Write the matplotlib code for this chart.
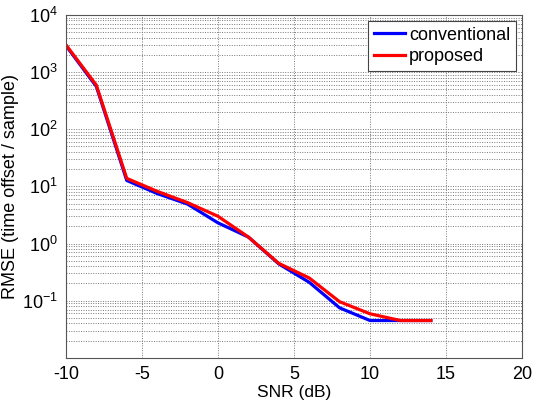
import matplotlib
matplotlib.use("Agg")
import matplotlib.pyplot as plt
import numpy as np

plt.rcParams['font.family'] = ['Liberation Sans', 'DejaVu Sans']
plt.rcParams['mathtext.default'] = 'regular'
plt.rcParams['axes.unicode_minus'] = False

# data
snr = [-10, -8, -6, -4, -2, 0, 2, 4, 6, 8, 10, 12, 14]
conventional = [2900, 560, 12.7, 7.5, 4.9, 2.3, 1.3, 0.44, 0.21, 0.075, 0.045, 0.045, 0.045]
proposed = [3000, 590, 13.8, 8.2, 5.2, 3.0, 1.3, 0.45, 0.25, 0.096, 0.059, 0.045, 0.045]

fig = plt.figure(figsize=(5.36, 4.03), dpi=100)
ax = fig.add_axes([0.123, 0.112, 0.851, 0.851])

ax.semilogy(snr, conventional, color='#0000ff', lw=2.3, label='conventional')
ax.semilogy(snr, proposed, color='#ff0000', lw=2.3, label='proposed')

ax.set_xlim(-10, 20)
ax.set_ylim(1e-2, 1e4)
ax.set_xticks([-10, -5, 0, 5, 10, 15, 20])
ax.set_yticks([1e-1, 1e0, 1e1, 1e2, 1e3, 1e4])

ax.grid(True, which='major', axis='both', linestyle=(0, (1, 1.5)), color='#777777', lw=0.7)
ax.grid(True, which='minor', axis='y', linestyle=(0, (1, 1.5)), color='#777777', lw=0.7)
ax.tick_params(which='both', direction='in', labelsize=13, top=False, right=False)
ax.tick_params(which='minor', length=0)
ax.tick_params(which='major', length=0, pad=6)
for s in ax.spines.values():
    s.set_color('#555555')

ax.set_xlabel('SNR (dB)', fontsize=12.5, labelpad=1)
ax.set_ylabel('RMSE (time offset / sample)', fontsize=13, labelpad=2)

leg = ax.legend(loc='upper right', fontsize=13, fancybox=False, framealpha=1,
                edgecolor='#444444', handlelength=1.75, handletextpad=0.2,
                borderpad=0.3, labelspacing=0.25, borderaxespad=0.35)
leg.get_frame().set_linewidth(0.8)

fig.savefig('out.png', dpi=100)
